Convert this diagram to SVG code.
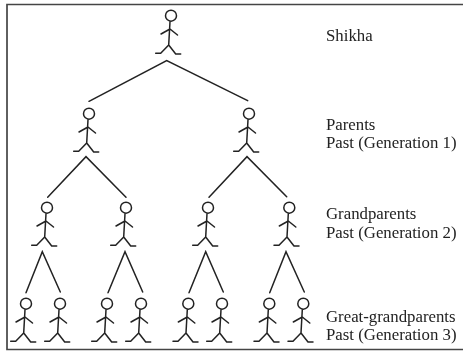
<svg xmlns="http://www.w3.org/2000/svg" width="463" height="351" viewBox="0 0 463 351">
<style>
.l{fill:none;stroke:#222;stroke-width:1.5;stroke-linecap:round;stroke-linejoin:round}
.c{fill:none;stroke:#222;stroke-width:1.5;stroke-linecap:round}
text{font-family:"Liberation Serif","Times New Roman",serif;font-size:16.8px;fill:#222}
</style>
<defs>
<filter id="soft" x="0" y="0" width="100%" height="100%" filterUnits="userSpaceOnUse"><feGaussianBlur stdDeviation="0.4"/></filter>
<g id="p" class="l">
<circle cx="0" cy="0" r="5.5"/>
<path d="M-1 6L-2.3 29.3M-10 18.3L-1 13.3L6.5 19.3M-15.3 37.6H-10.3L-2.3 29.3L4.7 38.3H9.7"/>
</g>
</defs>
<rect width="463" height="351" fill="#fff"/>
<g filter="url(#soft)">
<path id="frame" d="M463 4.5H7V349.5H463" fill="none" stroke="#444" stroke-width="1.7"/>
<g id="connectors" class="c">
<path d="M89 101.3L166.7 60.7L247.7 100.7"/>
<path d="M47.7 197.3L86 156.7L126 197.3"/>
<path d="M209 197.3L247 156.7L286.7 196.7"/>
<path d="M26 292.7L42.3 251.7L60.3 292"/>
<path d="M108 292.7L125 251.7L142.7 292"/>
<path d="M189 292.7L205.7 251.7L223.3 292"/>
<path d="M269.7 292.7L286 251.7L304.3 292"/>
</g>
<g id="shikha"><use href="#p" x="171" y="15.7"/></g>
<g id="parent-1"><use href="#p" x="89" y="113.7"/></g>
<g id="parent-2"><use href="#p" x="249" y="113.7"/></g>
<g id="grandparent-1"><use href="#p" x="47" y="207.7"/></g>
<g id="grandparent-2"><use href="#p" x="126" y="207.7"/></g>
<g id="grandparent-3"><use href="#p" x="208" y="207.7"/></g>
<g id="grandparent-4"><use href="#p" x="289.3" y="207.7"/></g>
<g id="great-1"><use href="#p" x="26" y="303.7"/></g>
<g id="great-2"><use href="#p" x="60" y="303.7"/></g>
<g id="great-3"><use href="#p" x="107" y="303.7"/></g>
<g id="great-4"><use href="#p" x="141" y="303.7"/></g>
<g id="great-5"><use href="#p" x="188.3" y="303.7"/></g>
<g id="great-6"><use href="#p" x="222" y="303.7"/></g>
<g id="great-7"><use href="#p" x="269.3" y="303.7"/></g>
<g id="great-8"><use href="#p" x="303.3" y="303.7"/></g>
<g id="labels">
<text x="326" y="41">Shikha</text>
<text x="326" y="130">Parents</text>
<text x="326" y="148">Past (Generation 1)</text>
<text x="326" y="219">Grandparents</text>
<text x="326" y="238">Past (Generation 2)</text>
<text x="326" y="322">Great-grandparents</text>
<text x="326" y="340">Past (Generation 3)</text>
</g>
</g>
</svg>
